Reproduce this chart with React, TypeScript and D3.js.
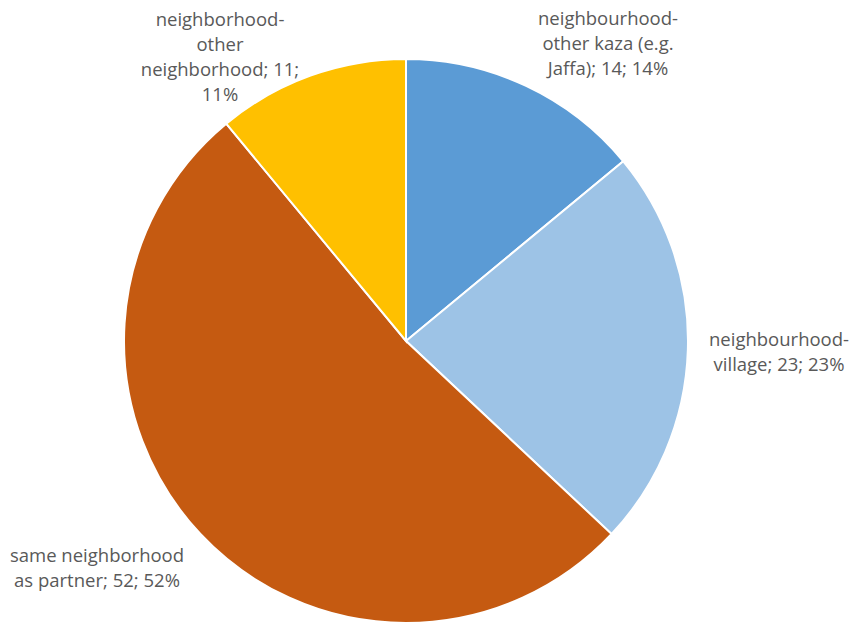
import React from "react";
import * as d3 from "d3";

const categories = [
  "neighbourhood-other kaza (e.g. Jaffa)",
  "neighbourhood-village",
  "same neighborhood as partner",
  "neighborhood-other neighborhood",
];
const values = [14, 23, 52, 11];
const colors = ["#5B9BD5", "#9DC3E6", "#C55A11", "#FFC000"];
const labelLines = [
  ["neighbourhood-", "other kaza (e.g.", "Jaffa); 14; 14%"],
  ["neighbourhood-", "village; 23; 23%"],
  ["same neighborhood", "as partner; 52; 52%"],
  ["neighborhood-", "other", "neighborhood; 11;", "11%"],
];
const labelPos: [number, number][] = [
  [608, 20],
  [779, 341],
  [97, 557],
  [220, 21],
];

export default function App() {
  const W = 849, H = 623;
  const cx = 406, cy = 341, r = 282;
  const pie = d3.pie<number>().sort(null).value((d) => d);
  const arcs = pie(values);
  const arc = d3.arc<d3.PieArcDatum<number>>().innerRadius(0).outerRadius(r);
  return (
    <svg width={W} height={H} style={{ position: "absolute", left: 0, top: 0, background: "#fff" }}>
      <g transform={`translate(${cx},${cy})`}>
        {arcs.map((a, i) => (
          <path key={categories[i]} d={arc(a) || ""} fill={colors[i]} stroke="#fff" strokeWidth={2} />
        ))}
      </g>
      {labelLines.map((lines, i) => (
        <text key={i} x={labelPos[i][0]} y={labelPos[i][1]} textAnchor="middle" fontFamily="'Open Sans', sans-serif" fontSize={18.5} fill="#595959" dominantBaseline="middle">
          {lines.map((l, j) => (
            <tspan key={j} x={labelPos[i][0]} y={labelPos[i][1] + j * 25}>{l}</tspan>
          ))}
        </text>
      ))}
    </svg>
  );
}
